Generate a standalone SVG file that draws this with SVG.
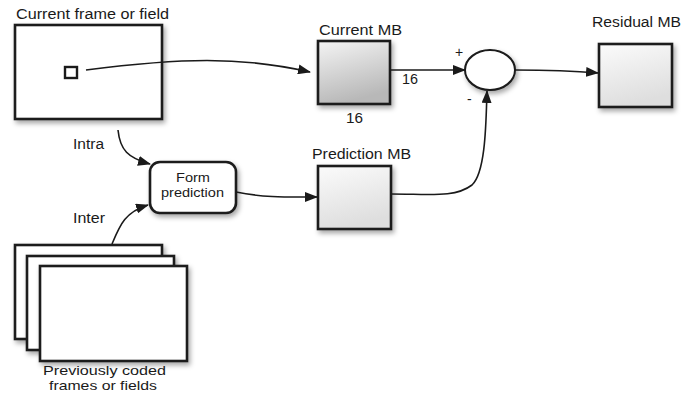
<svg xmlns="http://www.w3.org/2000/svg" width="696" height="394" viewBox="0 0 696 394">
<style>
text{font-family:"Liberation Sans",Arial,sans-serif;font-size:14px;fill:#1a1a1a}
text.two{font-size:13px}
.box{stroke:#1a1a1a;stroke-width:2.6;fill:#fff}
.conn{fill:none;stroke:#1a1a1a;stroke-width:1.6}
</style>
<defs>
<filter id="sh" x="-20%" y="-20%" width="150%" height="150%">
<feDropShadow dx="2" dy="3" stdDeviation="2.5" flood-color="#000" flood-opacity="0.35"/>
</filter>
<linearGradient id="g1" x1="0" y1="0" x2="0.3" y2="1">
<stop offset="0" stop-color="#f4f4f4"/>
<stop offset="1" stop-color="#b8b8b8"/>
</linearGradient>
<linearGradient id="g2" x1="0" y1="0" x2="0.3" y2="1">
<stop offset="0" stop-color="#fbfbfb"/>
<stop offset="1" stop-color="#dedede"/>
</linearGradient>
<marker id="ah" viewBox="0 0 13 10" refX="12" refY="5" markerWidth="13" markerHeight="10" markerUnits="userSpaceOnUse" orient="auto">
<path d="M0,0 L13,5 L0,10 Z" fill="#1a1a1a"/>
</marker>
</defs>

<g id="current-frame">
<rect class="box" x="15" y="25" width="147" height="94" filter="url(#sh)"/>
<rect x="65" y="67" width="12" height="11" fill="#fff" stroke="#1a1a1a" stroke-width="2.4"/>
<text x="16" y="19" textLength="153" lengthAdjust="spacingAndGlyphs">Current frame or field</text>
</g>

<g id="current-mb">
<rect class="box" x="318" y="41" width="72" height="63" style="fill:url(#g1)" filter="url(#sh)"/>
<text x="319" y="35" textLength="83" lengthAdjust="spacingAndGlyphs">Current MB</text>
<text x="402" y="84" textLength="16" lengthAdjust="spacingAndGlyphs">16</text>
<text x="346" y="123" textLength="17" lengthAdjust="spacingAndGlyphs">16</text>
</g>

<g id="subtract">
<ellipse cx="490" cy="70" rx="25" ry="20" fill="#fff" stroke="#1a1a1a" stroke-width="2" filter="url(#sh)"/>
<text x="455" y="57">+</text>
<text x="467" y="104">-</text>
</g>

<g id="residual-mb">
<rect class="box" x="599" y="44" width="73" height="63" style="fill:url(#g2)" filter="url(#sh)"/>
<text x="592" y="27" textLength="89" lengthAdjust="spacingAndGlyphs">Residual MB</text>
</g>

<g id="prediction-mb">
<rect class="box" x="318" y="166" width="73" height="63" style="fill:url(#g2)" filter="url(#sh)"/>
<text x="312" y="159" textLength="99" lengthAdjust="spacingAndGlyphs">Prediction MB</text>
</g>

<g id="form-prediction">
<rect class="box" x="150" y="162" width="86" height="51" rx="10" ry="10" stroke-width="2" filter="url(#sh)"/>
<text class="two" x="176" y="182" textLength="34" lengthAdjust="spacingAndGlyphs">Form</text>
<text class="two" x="161" y="197" textLength="63" lengthAdjust="spacingAndGlyphs">prediction</text>
</g>

<g id="previous-frames">
<rect class="box" x="15" y="245" width="147" height="94" filter="url(#sh)"/>
<rect class="box" x="27" y="256" width="147" height="94" filter="url(#sh)"/>
<rect class="box" x="40" y="266" width="147" height="95" filter="url(#sh)"/>
<text class="two" x="43" y="375" textLength="123" lengthAdjust="spacingAndGlyphs">Previously coded</text>
<text class="two" x="49" y="390" textLength="108" lengthAdjust="spacingAndGlyphs">frames or fields</text>
</g>

<g id="connectors">
<path class="conn" d="M86,70 C180,58 240,56 310,72" marker-end="url(#ah)"/>
<path class="conn" d="M390,70 L465,70" marker-end="url(#ah)"/>
<path class="conn" d="M515,70 C550,70 575,71 598,73" marker-end="url(#ah)"/>
<path class="conn" d="M391,194 C430,194 455,198 472,185 C486,172 486,120 487,91" marker-end="url(#ah)"/>
<path class="conn" d="M236,192 C265,198 290,197 317,197" marker-end="url(#ah)"/>
<path class="conn" d="M118,130 C120,150 128,158 150,164" marker-end="url(#ah)"/>
<path class="conn" d="M112,244 C120,225 125,212 148,205" marker-end="url(#ah)"/>
<text x="73" y="149" textLength="31" lengthAdjust="spacingAndGlyphs">Intra</text>
<text x="73" y="223" textLength="32" lengthAdjust="spacingAndGlyphs">Inter</text>
</g>
</svg>
